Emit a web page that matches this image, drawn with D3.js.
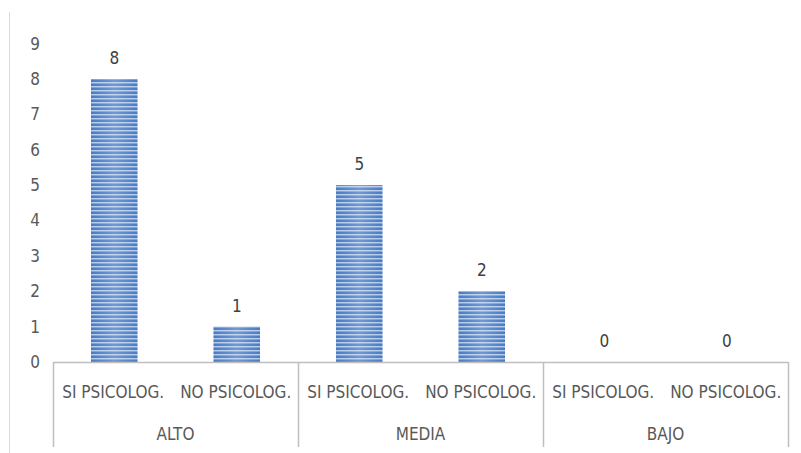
<!DOCTYPE html>
<html><head><meta charset="utf-8">
<script src="https://cdn.jsdelivr.net/npm/d3@7"></script>
<style>body{margin:0;background:#fff;} svg{display:block;}</style>
</head><body>
<script>
const groups = ["ALTO", "MEDIA", "BAJO"];
const subcats = ["SI PSICOLOG.", "NO PSICOLOG."];
const values = [[8, 1], [5, 2], [0, 0]];
const yTicks = [0,1,2,3,4,5,6,7,8,9];

const W = 801, H = 453;
const svg = d3.select("body").append("svg").attr("width", W).attr("height", H);
const font = "'DejaVu Sans Condensed', 'DejaVu Sans', sans-serif";
const txt = "#595959", axc = "#bfbfbf";

const defs = svg.append("defs");
const pat = defs.append("pattern").attr("id","stripes").attr("patternUnits","userSpaceOnUse")
  .attr("width", 10).attr("height", 4);
pat.append("rect").attr("width",10).attr("height",4).attr("fill","#4a7bc2");
pat.append("rect").attr("y",2).attr("width",10).attr("height",1).attr("fill","#b3cbec");
pat.append("rect").attr("y",3).attr("width",10).attr("height",1).attr("fill","#7aa0d6");
const grad = defs.append("linearGradient").attr("id","sheen").attr("x1","0").attr("x2","1");
grad.append("stop").attr("offset","0").attr("stop-color","#fff").attr("stop-opacity",0);
grad.append("stop").attr("offset","0.5").attr("stop-color","#fff").attr("stop-opacity",0.22);
grad.append("stop").attr("offset","1").attr("stop-color","#fff").attr("stop-opacity",0);

svg.append("line").attr("x1",9.5).attr("x2",9.5).attr("y1",12).attr("y2",H).attr("stroke","#d9d9d9").attr("stroke-width",1);

const x0 = d3.scaleBand().domain(groups).range([53, 788]);
const x1 = d3.scaleBand().domain(subcats).range([0, x0.bandwidth()]).paddingInner(0.62).paddingOuter(0.31);
const y = d3.scaleLinear().domain([0, 8]).range([362, 79]);

svg.append("g").selectAll("text").data(yTicks).join("text")
  .attr("x", 35).attr("y", d => y(d)).attr("dy","0.35em").attr("text-anchor","middle")
  .attr("font-family", font).attr("font-size", 17).attr("fill", txt).text(d => d);

groups.forEach((g, gi) => {
  const gg = svg.append("g").attr("transform", `translate(${x0(g)},0)`);
  subcats.forEach((s, si) => {
    const v = values[gi][si];
    const bx = x1(s);
    if (v > 0) {
      gg.append("rect").attr("x", bx).attr("y", y(v)).attr("width", x1.bandwidth()).attr("height", y(0) - y(v)).attr("fill","url(#stripes)");
      gg.append("rect").attr("x", bx).attr("y", y(v)).attr("width", x1.bandwidth()).attr("height", y(0) - y(v)).attr("fill","url(#sheen)");
    }
    gg.append("text").attr("x", bx + x1.bandwidth()/2).attr("y", y(v) - 15).attr("text-anchor","middle")
      .attr("font-family", font).attr("font-size", 17).attr("fill", "#404040").text(v);
    gg.append("text").attr("x", x0.bandwidth()/ (subcats.length) * (si + 0.5) - 1).attr("y", 392).attr("dy","0.35em")
      .attr("text-anchor","middle").attr("font-family", font).attr("font-size", 17).attr("fill", txt).text(s);
  });
  gg.append("text").attr("x", x0.bandwidth()/2).attr("y", 434).attr("dy","0.35em").attr("text-anchor","middle")
    .attr("font-family", font).attr("font-size", 17).attr("fill", txt).text(g);
});

svg.append("line").attr("x1",53).attr("x2",788).attr("y1",362.5).attr("y2",362.5).attr("stroke",axc).attr("stroke-width",1.5);
const bounds = groups.map(g => x0(g)).concat([788]);
svg.append("g").selectAll("line").data(bounds).join("line")
  .attr("x1", d => Math.round(d)+0.5).attr("x2", d => Math.round(d)+0.5).attr("y1", 362).attr("y2", 447)
  .attr("stroke", axc).attr("stroke-width",1.5);
</script>
</body></html>
